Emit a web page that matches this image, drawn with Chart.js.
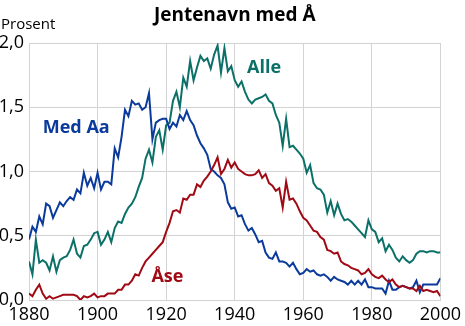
<!DOCTYPE html>
<html>
<head>
<meta charset="utf-8">
<script src="https://cdn.jsdelivr.net/npm/chart.js@4.4.1/dist/chart.umd.min.js"></script>
<style>
  html, body { margin: 0; padding: 0; background: #fff; }
  #wrap { position: relative; width: 465px; height: 326px; }
</style>
</head>
<body>
<div id="wrap"><canvas id="jentenavn"></canvas></div>
<script>
// one value per year, 1880-2000, percent of girls born
const years = Array.from({ length: 121 }, (_, i) => 1880 + i);

const alle = [
  0.30, 0.20, 0.47, 0.29, 0.31, 0.29, 0.23, 0.34, 0.22, 0.31,
  0.33, 0.34, 0.39, 0.47, 0.36, 0.33, 0.42, 0.43, 0.47, 0.52,
  0.53, 0.43, 0.47, 0.53, 0.45, 0.56, 0.61, 0.60, 0.67, 0.72,
  0.75, 0.80, 0.88, 0.95, 1.10, 1.17, 1.07, 1.27, 1.32, 1.17,
  1.36, 1.38, 1.55, 1.62, 1.50, 1.73, 1.66, 1.86, 1.71, 1.81,
  1.90, 1.86, 1.88, 1.80, 1.91, 1.98, 1.77, 1.96, 1.78, 1.82,
  1.71, 1.66, 1.70, 1.62, 1.56, 1.53, 1.56, 1.57, 1.58, 1.60,
  1.55, 1.53, 1.44, 1.38, 1.20, 1.41, 1.19, 1.20, 1.17, 1.14,
  1.10, 0.99, 1.05, 0.91, 0.87, 0.86, 0.82, 0.68, 0.77, 0.66,
  0.75, 0.67, 0.62, 0.63, 0.61, 0.58, 0.55, 0.52, 0.49, 0.62,
  0.55, 0.53, 0.45, 0.48, 0.38, 0.43, 0.39, 0.33, 0.30, 0.34,
  0.31, 0.29, 0.31, 0.36, 0.38, 0.38, 0.37, 0.38, 0.38, 0.37,
  0.37
];

const medAa = [
  0.47, 0.57, 0.53, 0.65, 0.59, 0.75, 0.73, 0.64, 0.70, 0.76,
  0.73, 0.77, 0.80, 0.78, 0.86, 0.83, 0.99, 0.89, 0.95, 0.87,
  0.99, 0.86, 0.92, 0.92, 0.90, 1.18, 1.11, 1.27, 1.48, 1.43,
  1.55, 1.52, 1.53, 1.48, 1.50, 1.61, 1.25, 1.38, 1.40, 1.41,
  1.41, 1.33, 1.38, 1.35, 1.44, 1.40, 1.47, 1.40, 1.36, 1.28,
  1.22, 1.18, 1.13, 1.02, 1.00, 0.97, 0.95, 0.90, 0.76, 0.71,
  0.72, 0.65, 0.66, 0.59, 0.54, 0.56, 0.51, 0.45, 0.46, 0.37,
  0.33, 0.32, 0.37, 0.30, 0.30, 0.29, 0.26, 0.29, 0.24, 0.20,
  0.21, 0.24, 0.22, 0.23, 0.20, 0.19, 0.20, 0.18, 0.15, 0.18,
  0.16, 0.15, 0.14, 0.12, 0.15, 0.12, 0.15, 0.12, 0.16, 0.10,
  0.10, 0.09, 0.09, 0.09, 0.05, 0.15, 0.08, 0.08, 0.10, 0.11,
  0.10, 0.09, 0.10, 0.15, 0.06, 0.12, 0.12, 0.12, 0.12, 0.12,
  0.17
];

const aase = [
  0.05, 0.03, 0.08, 0.12, 0.05, 0.01, 0.03, 0.01, 0.02, 0.03,
  0.04, 0.04, 0.04, 0.04, 0.03, 0.00, 0.03, 0.02, 0.03, 0.05,
  0.02, 0.03, 0.03, 0.05, 0.05, 0.05, 0.08, 0.08, 0.12, 0.12,
  0.15, 0.20, 0.19, 0.25, 0.30, 0.33, 0.36, 0.39, 0.42, 0.45,
  0.53, 0.60, 0.69, 0.70, 0.68, 0.79, 0.78, 0.82, 0.82, 0.90,
  0.88, 0.93, 0.96, 1.00, 1.05, 1.11, 0.98, 1.02, 1.09, 1.03,
  1.07, 1.02, 1.00, 0.98, 0.97, 0.97, 0.98, 1.01, 0.95, 0.98,
  0.91, 0.89, 0.85, 0.87, 0.72, 0.92, 0.78, 0.79, 0.75, 0.69,
  0.64, 0.62, 0.58, 0.54, 0.53, 0.49, 0.47, 0.39, 0.38, 0.36,
  0.37, 0.30, 0.28, 0.27, 0.25, 0.24, 0.23, 0.20, 0.21, 0.24,
  0.20, 0.18, 0.17, 0.19, 0.16, 0.14, 0.16, 0.12, 0.10, 0.11,
  0.10, 0.09, 0.09, 0.07, 0.11, 0.07, 0.08, 0.07, 0.06, 0.07,
  0.03
];

const xTicks = [1880, 1900, 1920, 1940, 1960, 1980, 2000];
const yTicks = [0, 0.5, 1, 1.5, 2];

const TEAL = '#0b7067';
const BLUE = '#0a3b9c';
const RED = '#a00a14';
const GRID = '#d3d3d3';
const FONT = "'Open Sans', 'DejaVu Sans', sans-serif";

// names written next to their curve, in data coordinates
const curveNames = [
  { text: 'Alle', color: TEAL, year: 1943.6, value: 1.765 },
  { text: 'Med Aa', color: BLUE, year: 1884.0, value: 1.297 },
  { text: 'Åse', color: RED, year: 1915.7, value: 0.142 }
];

const toPoints = vals => vals.map((v, i) => ({ x: years[i], y: v }));

const textPlugin = {
  id: 'texts',
  afterDraw(chart) {
    const ctx = chart.ctx;
    const xs = chart.scales.x, ys = chart.scales.y;
    ctx.save();
    ctx.textBaseline = 'alphabetic';

    ctx.fillStyle = '#000';
    ctx.font = 'bold 19px ' + FONT;
    ctx.textAlign = 'center';
    ctx.fillText('Jentenavn med Å', (chart.chartArea.left + chart.chartArea.right) / 2, 21);

    ctx.font = '15px ' + FONT;
    ctx.textAlign = 'left';
    ctx.fillText('Prosent', 1, 29);

    ctx.font = 'bold 18px ' + FONT;
    curveNames.forEach(n => {
      ctx.fillStyle = n.color;
      ctx.fillText(n.text, xs.getPixelForValue(n.year), ys.getPixelForValue(n.value));
    });
    ctx.restore();
  }
};

new Chart(document.getElementById('jentenavn'), {
  type: 'line',
  data: {
    datasets: [
      { label: 'Åse', data: toPoints(aase), borderColor: RED },
      { label: 'Med Aa', data: toPoints(medAa), borderColor: BLUE },
      { label: 'Alle', data: toPoints(alle), borderColor: TEAL }
    ]
  },
  options: {
    responsive: true,
    maintainAspectRatio: false,
    animation: false,
    layout: { padding: { top: 43, right: 20, left: 0, bottom: 0 } },
    elements: {
      line: { borderWidth: 2, tension: 0 },
      point: { radius: 0 }
    },
    plugins: {
      legend: { display: false },
      tooltip: { enabled: false }
    },
    scales: {
      x: {
        type: 'linear',
        min: 1880,
        max: 2000,
        afterBuildTicks: s => { s.ticks = xTicks.map(v => ({ value: v })); },
        afterFit: s => { s.height = 26; },
        grid: { color: GRID, drawTicks: false },
        border: { color: GRID },
        ticks: {
          padding: 4,
          color: '#000',
          font: { family: FONT, size: 18 },
          callback: v => String(v)
        }
      },
      y: {
        min: 0,
        max: 2,
        afterBuildTicks: s => { s.ticks = yTicks.map(v => ({ value: v })); },
        afterFit: s => { s.width = 29; },
        grid: { color: GRID, drawTicks: false },
        border: { color: GRID },
        ticks: {
          padding: 5,
          color: '#000',
          font: { family: FONT, size: 18 },
          callback: v => v.toFixed(1).replace('.', ',')
        }
      }
    }
  },
  plugins: [textPlugin]
});
</script>
</body>
</html>
